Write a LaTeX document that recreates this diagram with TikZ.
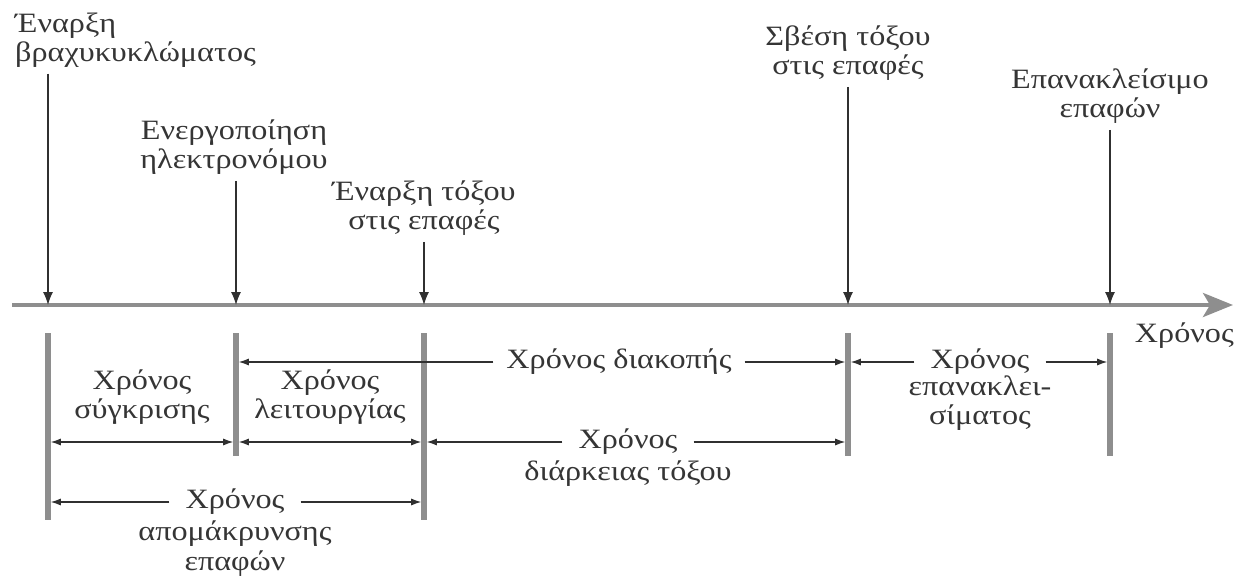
\documentclass[tikz,border=0pt]{standalone}
\usepackage{fontspec}
\setmainfont[FakeStretch=1.15]{Liberation Serif}
\usetikzlibrary{arrows.meta}
\definecolor{txt}{HTML}{353535}
\definecolor{ln}{HTML}{303030}
\definecolor{axisgray}{HTML}{8E8E8E}
\begin{document}
\begin{tikzpicture}[x=1pt,y=-1pt,
  lbl/.style={font=\fontsize{28}{29.5}\selectfont, text=txt, align=center, inner sep=0pt},
  gaplbl/.style={lbl, inner xsep=15pt, inner ysep=2pt},
  downarrow/.style={draw=ln, line width=1.3pt, -{Latex[length=13pt,width=10pt]}, shorten <=6pt},
  axisline/.style={draw=axisgray, line width=4pt, -{Stealth[length=30pt,width=24pt,inset=7pt]}},
  barline/.style={draw=axisgray, line width=5.5pt},
  dim/.style={draw=ln, line width=1.1pt, -{Latex[length=10pt,width=7pt]}, shorten >=2.8pt},
  dimboth/.style={draw=ln, line width=1.1pt, {Latex[length=10pt,width=7pt]}-{Latex[length=10pt,width=7pt]}, shorten >=2.8pt, shorten <=2.8pt}]
\useasboundingbox (0,0) rectangle (1235,576);
% axis
\coordinate (ax0) at (12,305);
\coordinate (ax1) at (1233,305);
\draw[axisline] (ax0) -- (ax1);
\coordinate (tA) at (48,305);
\coordinate (tB) at (236,305);
\coordinate (tC) at (424,305);
\coordinate (tD) at (848,305);
\coordinate (tE) at (1110,305);
% top labels
\node[lbl, align=left, anchor=west] (lA) at (15,40) {Έναρξη\\βραχυκυκλώματος};
\node[lbl] (lB) at (234,147) {Ενεργοποίηση\\ηλεκτρονόμου};
\node[lbl] (lC) at (424,208) {Έναρξη τόξου\\στις επαφές};
\node[lbl] (lD) at (848,53) {Σβέση τόξου\\στις επαφές};
\node[lbl] (lE) at (1110,96) {Επανακλείσιμο\\επαφών};
\node[lbl, anchor=east] (lT) at (1234,336) {Χρόνος};
\draw[downarrow] (lA.south -| tA) -- (tA);
\draw[downarrow] (lB.south -| tB) -- (tB);
\draw[downarrow] (lC.south -| tC) -- (tC);
\draw[downarrow] (lD.south -| tD) -- (tD);
\draw[downarrow] (lE.south -| tE) -- (tE);
% bars
\coordinate (bA1) at (48,333); \coordinate (bA2) at (48,520);
\coordinate (bB1) at (236,333); \coordinate (bB2) at (236,456);
\coordinate (bC1) at (424,333); \coordinate (bC2) at (424,520);
\coordinate (bD1) at (848,333); \coordinate (bD2) at (848,456);
\coordinate (bE1) at (1110,333); \coordinate (bE2) at (1110,456);
\draw[barline] (bA1) -- (bA2);
\draw[barline] (bB1) -- (bB2);
\draw[barline] (bC1) -- (bC2);
\draw[barline] (bD1) -- (bD2);
\draw[barline] (bE1) -- (bE2);
% dimension anchors
\coordinate (dB362) at (236,362); \coordinate (dD362) at (848,362); \coordinate (dE362) at (1110,362);
\coordinate (dA442) at (48,442); \coordinate (dB442) at (236,442); \coordinate (dC442) at (424,442); \coordinate (dD442) at (848,442);
\coordinate (dA502) at (48,502); \coordinate (dC502) at (424,502);
% Χρόνος διακοπής
\node[gaplbl, inner xsep=13pt] (tdiak) at (619,362) {Χρόνος διακοπής};
\draw[dim] (tdiak.west) -- (dB362);
\draw[dim] (tdiak.east) -- (dD362);
% Χρόνος επανακλεισίματος
\node[gaplbl, inner xsep=16pt] (tepan) at (980,362) {Χρόνος};
\node[lbl] (tepan2) at (980,403) {επανακλει-\\σίματος};
\draw[dim] (tepan.west) -- (dD362);
\draw[dim] (tepan.east) -- (dE362);
% Χρόνος σύγκρισης
\node[lbl] (tsyg) at (142,397) {Χρόνος\\σύγκρισης};
\draw[dimboth] (dA442) -- (dB442);
% Χρόνος λειτουργίας
\node[lbl] (tleit) at (330,397) {Χρόνος\\λειτουργίας};
\draw[dimboth] (dB442) -- (dC442);
% Χρόνος διάρκειας τόξου
\node[gaplbl, inner xsep=16pt] (tdiar) at (628,442) {Χρόνος};
\node[lbl, anchor=north] (tdiar2) at (628,461) {διάρκειας τόξου};
\draw[dim] (tdiar.west) -- (dC442);
\draw[dim] (tdiar.east) -- (dD442);
% Χρόνος απομάκρυνσης επαφών
\node[gaplbl, inner xsep=16pt] (tapom) at (235,502) {Χρόνος};
\node[lbl, anchor=north] (tapom2) at (235,521) {απομάκρυνσης\\επαφών};
\draw[dim] (tapom.west) -- (dA502);
\draw[dim] (tapom.east) -- (dC502);
\end{tikzpicture}
\end{document}
